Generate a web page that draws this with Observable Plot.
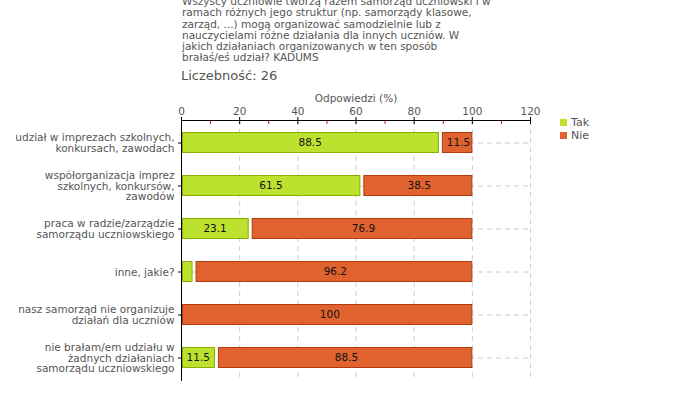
<!DOCTYPE html>
<html>
<head>
<meta charset="utf-8">
<script src="https://cdn.jsdelivr.net/npm/d3@7"></script>
<script src="https://cdn.jsdelivr.net/npm/@observablehq/plot@0.6"></script>
<style>
  html, body { margin: 0; padding: 0; background: #fff; }
  #wrap { position: relative; width: 680px; height: 400px; overflow: hidden; font-family: "DejaVu Sans", sans-serif; }
  #title { position: absolute; left: 182px; top: -4px; white-space: nowrap; font-size: 10.5px; line-height: 11.3px; color: #555; }
  #count { position: absolute; left: 181px; top: 68px; font-size: 13px; color: #555; }
  #legend { position: absolute; left: 560px; top: 116px; font-size: 11px; color: #555; }
  #legend div { display: flex; align-items: center; height: 13px; }
  #legend span.sw { display: inline-block; width: 7px; height: 7px; margin-right: 4px; }
  #chart { position: absolute; left: 0; top: 0; }
</style>
</head>
<body>
<div id="wrap">
  <div id="chart"></div>
  <div id="title"></div>
  <div id="count"></div>
  <div id="legend"></div>
</div>
<script>
const titleLines = [
  "Wszyscy uczniowie tworzą razem samorząd uczniowski i w",
  "ramach różnych jego struktur (np. samorządy klasowe,",
  "zarząd, ...) mogą organizować samodzielnie lub z",
  "nauczycielami różne działania dla innych uczniów. W",
  "jakich działaniach organizowanych w ten sposób",
  "brałaś/eś udział? KADUMS"
];
const countText = "Liczebność: 26";
const xLabel = "Odpowiedzi (%)";
const categories = [
  "udział w imprezach szkolnych,\nkonkursach, zawodach",
  "współorganizacja imprez\nszkolnych, konkursów,\nzawodów",
  "praca w radzie/zarządzie\nsamorządu uczniowskiego",
  "inne, jakie?",
  "nasz samorząd nie organizuje\ndziałań dla uczniów",
  "nie brałam/em udziału w\nżadnych działaniach\nsamorządu uczniowskiego"
];
const seriesNames = ["Tak", "Nie"];
const tak = [88.5, 61.5, 23.1, 3.8, 0, 11.5];
const nie = [11.5, 38.5, 76.9, 96.2, 100, 88.5];
const xTicks = [0, 20, 40, 60, 80, 100, 120];
const xMinorTicks = [10, 30, 50, 70, 90, 110];
const colors = {Tak: "#bde12f", Nie: "#e0632f"};
const strokes = {Tak: "#8aad00", Nie: "#b23a0c"};

document.getElementById("title").innerHTML = titleLines.join("<br>");
document.getElementById("count").textContent = countText;
document.getElementById("legend").innerHTML = seriesNames.map(s =>
  `<div><span class="sw" style="background:${colors[s]}"></span>${s}</div>`).join("");

const rows = categories.map((c, i) => ({cat: c, tak: tak[i], nie: nie[i]}));

const plot = Plot.plot({
  width: 680,
  height: 400,
  marginTop: 120,
  marginLeft: 181,
  marginRight: 150,
  marginBottom: 20,
  style: {fontFamily: "DejaVu Sans, sans-serif", fontSize: "10px", color: "#555", background: "transparent"},
  x: {domain: [0, 120]},
  y: {domain: categories, padding: 0},
  marks: [
    Plot.gridX(xTicks.slice(1), {stroke: "#ccc", strokeOpacity: 1, strokeDasharray: "5,4"}),
    Plot.gridY({stroke: "#ccc", strokeOpacity: 1, strokeDasharray: "5,4"}),
    Plot.barX(rows, {y: "cat", x1: 0, x2: "tak", fill: colors.Tak, stroke: strokes.Tak, insetTop: 11.5, insetBottom: 11.5, insetLeft: 1.5, filter: d => d.tak > 0}),
    Plot.barX(rows, {y: "cat", x1: "tak", x2: d => d.tak + d.nie, fill: colors.Nie, stroke: strokes.Nie, insetTop: 11.5, insetBottom: 11.5, insetLeft: 4, filter: d => d.tak > 0}),
    Plot.barX(rows, {y: "cat", x1: "tak", x2: d => d.tak + d.nie, fill: colors.Nie, stroke: strokes.Nie, insetTop: 11.5, insetBottom: 11.5, insetLeft: 1.5, filter: d => d.tak === 0}),
    Plot.text(rows, {y: "cat", x: d => d.tak / 2, text: d => String(d.tak), fill: "#111", fontSize: 10.5, filter: d => d.tak > 5}),
    Plot.text(rows, {y: "cat", x: d => d.tak + d.nie / 2 + 1, text: d => String(d.nie), fill: "#111", fontSize: 10.5, filter: d => d.nie > 5}),
    Plot.axisX({anchor: "top", ticks: xTicks, tickSize: 4, tickPadding: 2, stroke: "#000", fill: "#555", fontSize: 10.5, label: xLabel, labelAnchor: "center", labelOffset: 26, labelArrow: "none"}),
    Plot.axisX({anchor: "top", ticks: xTicks, tickSize: -3, text: null, label: null, stroke: "#000"}),
    Plot.axisX({anchor: "top", ticks: xMinorTicks, tickSize: -3, text: null, label: null, stroke: "#e00000"}),
    Plot.frame({anchor: "top", stroke: "#000"}),
    Plot.frame({anchor: "left", stroke: "#000"}),
    Plot.axisY({anchor: "left", tickSize: 3, tickPadding: 4, stroke: "#000", fill: "#555", fontSize: 10.5, lineHeight: 1.04, label: null})
  ]
});
document.getElementById("chart").appendChild(plot);
</script>
</body>
</html>
